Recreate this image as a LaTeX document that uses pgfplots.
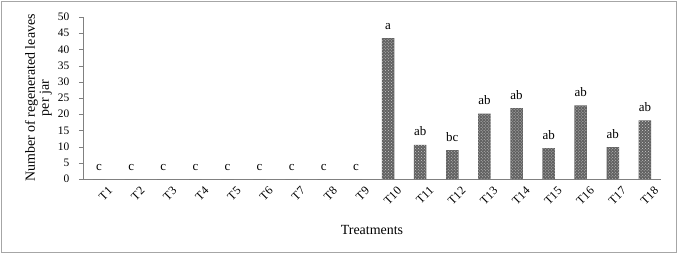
\documentclass[border=0pt]{standalone}
\usepackage{pgfplots}
\pgfplotsset{compat=1.18}
\usepackage{fontspec}
\setmainfont{Liberation Serif}
\usetikzlibrary{patterns}
\pgfplotstableread{
x val lab
1 0 c
2 0 c
3 0 c
4 0 c
5 0 c
6 0 c
7 0 c
8 0 c
9 0 c
10 43.5 a
11 10.5 ab
12 8.9 bc
13 20.2 ab
14 21.9 ab
15 9.5 ab
16 22.7 ab
17 9.8 ab
18 18.1 ab
}\datatable
\begin{document}
\begin{tikzpicture}
\begin{axis}[
  scale only axis,
  width=578bp, height=162bp,
  xmin=0.5, xmax=18.5,
  ymin=0, ymax=50,
  axis lines*=left,
  axis line style={gray},
  ytick={0,5,...,50},
  yticklabels={0,5,10,15,20,25,30,35,40,45,50},
  xtick={1,...,18},
  xticklabels={T1,T2,T3,T4,T5,T6,T7,T8,T9,T10,T11,T12,T13,T14,T15,T16,T17,T18},
  extra x ticks={0.5,1.5,...,18.5},
  extra x tick labels={},
  extra x tick style={major tick length=5bp, tick style={gray}},
  major tick length=4bp,
  xtick style={draw=none},
  ytick style={gray},
  tick align=outside,
  ylabel={Number of regenerated leaves\\per jar},
  ylabel style={align=center, font=\fontsize{14}{14}\selectfont, yshift=1bp},
  xlabel={Treatments},
  xlabel style={font=\fontsize{14}{14}\selectfont, yshift=-7bp},
  clip=false,
  ybar, bar width=12.5bp,
  nodes near coords,
  point meta=explicit symbolic,
  every node near coord/.append style={font=\fontsize{13}{13}\selectfont, anchor=base, yshift=9bp, inner sep=0pt},
  xticklabel style={rotate=45, anchor=north east, inner sep=0pt, xshift=4bp, yshift=-8bp, font=\fontsize{12}{12}\selectfont},
  yticklabel style={font=\fontsize{11.5}{12}\selectfont, inner sep=1.5pt, xshift=-8bp},
]
\addplot[fill=black!62, draw=none, postaction={pattern=crosshatch dots, pattern color=white!60!gray}] table[x=x, y=val, meta=lab] {\datatable};
\coordinate (sw) at (rel axis cs:0,0);
\coordinate (ne) at (rel axis cs:1,1);
\end{axis}
\path ([xshift=-83bp,yshift=-74bp]sw) rectangle ([xshift=16bp,yshift=17bp]ne);
\draw[gray!70, line width=0.8pt] ([xshift=-82bp,yshift=-73bp]sw) rectangle ([xshift=15bp,yshift=16bp]ne);
\end{tikzpicture}
\end{document}
